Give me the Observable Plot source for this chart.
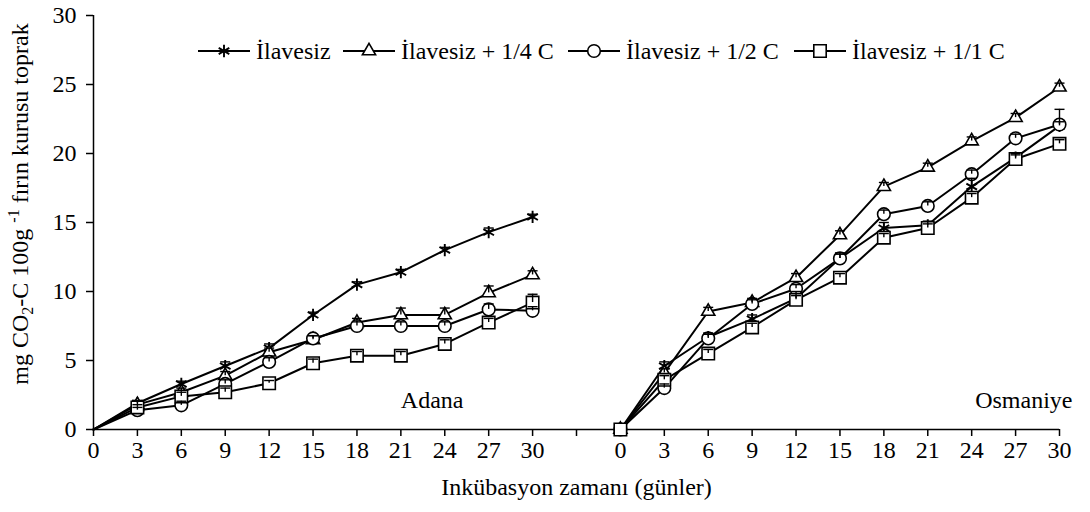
<!DOCTYPE html>
<html><head><meta charset="utf-8">
<script src="https://cdn.jsdelivr.net/npm/d3@7"></script>
<script src="https://cdn.jsdelivr.net/npm/@observablehq/plot@0.6"></script>
<style>
body{margin:0;background:#fff;}
#chart svg{display:block;}
</style></head><body><div id="chart"></div>
<script>
// ---- data ----
const days = [0, 3, 6, 9, 12, 15, 18, 21, 24, 27, 30];
const sites = ["Adana", "Osmaniye"];
const seriesNames = ["İlavesiz", "İlavesiz + 1/4 C", "İlavesiz + 1/2 C", "İlavesiz + 1/1 C"];

const adanaIlavesiz = [0, 1.9, 3.3, 4.6, 5.9, 8.3, 10.5, 11.4, 13.0, 14.3, 15.4];
const adanaQuarter  = [0, 1.8, 2.7, 3.9, 5.6, 6.5, 7.75, 8.3, 8.3, 9.9, 11.2];
const adanaHalf     = [0, 1.4, 1.75, 3.3, 4.9, 6.6, 7.5, 7.5, 7.5, 8.7, 8.6];
const adanaFull     = [0, 1.6, 2.4, 2.7, 3.35, 4.8, 5.35, 5.35, 6.2, 7.75, 9.2];

const osmIlavesiz = [0, 4.6, 6.7, 8.0, 9.5, 12.4, 14.6, 14.8, 17.6, 19.7, 22.0];
const osmQuarter  = [0, 4.1, 8.55, 9.2, 11.0, 14.1, 17.6, 19.0, 20.9, 22.6, 24.8];
const osmHalf     = [0, 3.0, 6.6, 9.1, 10.2, 12.4, 15.6, 16.2, 18.5, 21.1, 22.1];
const osmFull     = [0, 3.6, 5.5, 7.4, 9.4, 11.0, 13.9, 14.6, 16.8, 19.6, 20.7];

// upper error bar lengths (estimated)
const adanaIlavesizErr = [0, 0.2, 0.2, 0.3, 0.3, 0.2, 0.2, 0.2, 0.2, 0.3, 0.2];
const adanaQuarterErr  = [0, 0.3, 0.3, 0.3, 0.3, 0.3, 0.3, 0.5, 0.5, 0.5, 0.3];
const adanaHalfErr     = [0, 0.2, 0.3, 0.3, 0.3, 0.2, 0.3, 0.3, 0.3, 0.4, 0.3];
const adanaFullErr     = [0, 0.2, 0.3, 0.3, 0.2, 0.3, 0.3, 0.3, 0.3, 0.3, 0.6];
const osmIlavesizErr = [0, 0.3, 0.3, 0.3, 0.5, 0.3, 0.4, 0.3, 0.6, 0.3, 0.3];
const osmQuarterErr  = [0, 0.3, 0.3, 0.3, 0.3, 0.3, 0.3, 0.3, 0.3, 0.3, 0.3];
const osmHalfErr     = [0, 0.3, 0.3, 0.3, 0.3, 0.4, 0.3, 0.3, 0.3, 0.3, 1.1];
const osmFullErr     = [0, 0.3, 0.3, 0.3, 0.3, 0.3, 0.3, 0.3, 0.3, 0.3, 0.3];

const siteValues = {
  Adana: [adanaIlavesiz, adanaQuarter, adanaHalf, adanaFull],
  Osmaniye: [osmIlavesiz, osmQuarter, osmHalf, osmFull]
};
const siteErrs = {
  Adana: [adanaIlavesizErr, adanaQuarterErr, adanaHalfErr, adanaFullErr],
  Osmaniye: [osmIlavesizErr, osmQuarterErr, osmHalfErr, osmFullErr]
};
const siteOffset = {Adana: 0, Osmaniye: 36}; // one empty category (3 days) between panels

const rows = [];
sites.forEach(site => {
  seriesNames.forEach((s, si) => {
    days.forEach((d, di) => {
      rows.push({site, series: s, si, day: d, pos: d + siteOffset[site],
                 value: siteValues[site][si][di], err: siteErrs[site][si][di]});
    });
  });
});

const symbols = ["asterisk", "triangle", "circle", "square"];
const radii = [5.8, 4.9, 6.3, 7.0];
const strokeWidths = [1.9, 1.6, 1.6, 1.6];
const capSymbol = {draw(ctx) { ctx.moveTo(-5, 0); ctx.lineTo(5, 0); }};

const markerRows = rows.filter(d => !(d.site === "Adana" && d.day === 0));
const errRows = rows.filter(d => d.err > 0);

const font = "'Liberation Serif', 'Times New Roman', serif";

const marks = [
  Plot.ruleY([0], {stroke: "black", strokeWidth: 1.5}),
  Plot.ruleX([0], {stroke: "black", strokeWidth: 1.5}),
  Plot.axisX({ticks: d3.range(0, 67, 3),
    tickFormat: v => v <= 30 ? String(v) : (v === 33 ? "" : String(v - 36)),
    tickSize: 7, tickPadding: 4, strokeWidth: 1.5, label: null, fontSize: 24}),
  Plot.axisY({ticks: [0, 5, 10, 15, 20, 25, 30], tickSize: 7, tickPadding: 10,
    strokeWidth: 1.5, label: null, fontSize: 24}),
  Plot.line(rows, {x: "pos", y: "value", z: d => d.site + d.series, stroke: "black", strokeWidth: 2})
];
seriesNames.forEach((s, si) => {
  marks.push(Plot.dot(markerRows.filter(d => d.si === si), {
    x: "pos", y: "value", symbol: symbols[si], r: radii[si],
    stroke: "black", fill: "white", strokeWidth: strokeWidths[si]}));
});
marks.push(
  Plot.ruleX(errRows, {x: "pos", y1: "value", y2: d => d.value + d.err, stroke: "black", strokeWidth: 1.4}),
  Plot.dot(errRows, {x: "pos", y: d => d.value + d.err, symbol: capSymbol, r: 3, stroke: "black", strokeWidth: 1.4}),
  Plot.text(["Inkübasyon zamanı (günler)"], {frameAnchor: "bottom", dy: 65, fontSize: 24}),
  Plot.text([sites[0]], {x: 21, frameAnchor: "bottom", textAnchor: "start", dy: -22, fontSize: 24}),
  Plot.text([sites[1]], {frameAnchor: "bottom-right", textAnchor: "end", dx: 13, dy: -22, fontSize: 24})
);

const plot = Plot.plot({
  width: 1090, height: 512,
  marginLeft: 93, marginRight: 31, marginTop: 15, marginBottom: 83,
  style: {fontFamily: font, fontSize: "24px", color: "black", background: "white"},
  x: {type: "linear", domain: [0, 66]},
  y: {type: "linear", domain: [0, 30]},
  marks
});
document.getElementById("chart").append(plot);

// ---- y-axis title with sub/superscript ----
const svg = d3.select(plot);
const yt = svg.append("text")
  .attr("transform", "translate(20,204) rotate(-90)")
  .attr("text-anchor", "middle").attr("dy", "0.35em")
  .attr("font-family", font).attr("font-size", 24).attr("fill", "black");
yt.append("tspan").text("mg CO");
yt.append("tspan").attr("font-size", 16).attr("dy", 5).text("2");
yt.append("tspan").attr("dy", -5).text("-C 100g ");
yt.append("tspan").attr("font-size", 16).attr("dy", -9).text("-1");
yt.append("tspan").attr("dy", 9).text(" fırın kurusu toprak");

// ---- legend ----
const legendItems = [
  {x1: 198, x2: 250, tx: 256},
  {x1: 343, x2: 395, tx: 401},
  {x1: 568, x2: 620, tx: 626},
  {x1: 794, x2: 846, tx: 852}
];
const d3sym = {asterisk: d3.symbolAsterisk, triangle: d3.symbolTriangle, circle: d3.symbolCircle, square: d3.symbolSquare};
const lg = svg.append("g");
seriesNames.forEach((s, i) => {
  const it = legendItems[i], ly = 51, mx = (it.x1 + it.x2) / 2;
  lg.append("line").attr("x1", it.x1).attr("x2", it.x2).attr("y1", ly).attr("y2", ly)
    .attr("stroke", "black").attr("stroke-width", 2);
  lg.append("path").attr("d", d3.symbol(d3sym[symbols[i]], Math.PI * radii[i] * radii[i])())
    .attr("transform", `translate(${mx},${ly})`)
    .attr("fill", "white").attr("stroke", "black").attr("stroke-width", strokeWidths[i]);
  lg.append("text").attr("x", it.tx).attr("y", ly).attr("dy", "0.35em")
    .attr("text-anchor", "start")
    .attr("font-family", font).attr("font-size", 24).attr("fill", "black").text(s);
});
</script></body></html>
